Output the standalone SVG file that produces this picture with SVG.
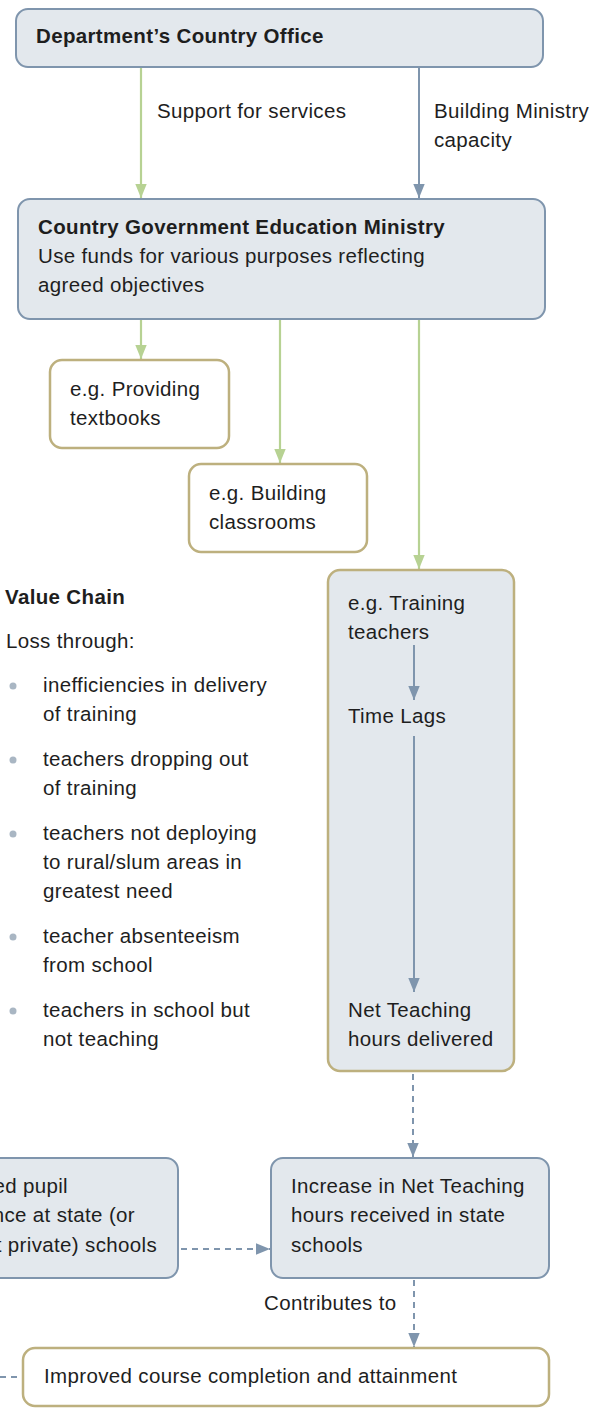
<svg xmlns="http://www.w3.org/2000/svg" width="606" height="1408" viewBox="0 0 606 1408">
  <defs>
    <style>
      text { font-family: "Liberation Sans", Arial, sans-serif; font-size: 20.5px; letter-spacing: 0.35px; fill: #1e1e1e; }
      .b { font-weight: bold; }
      .blue { fill: #e3e8ed; stroke: #7f95ad; stroke-width: 2; }
      .tan { fill: #ffffff; stroke: #bdb07e; stroke-width: 2.5; }
      .tanblue { fill: #e3e8ed; stroke: #bdb07e; stroke-width: 2.5; }
      .g { stroke: #b7d293; stroke-width: 2.2; fill: none; }
      .s { stroke: #7f95ad; stroke-width: 2; fill: none; }
      .d { stroke: #7f95ad; stroke-width: 2; fill: none; stroke-dasharray: 6 5; }
      .dot { fill: #a9b6c3; }
    </style>
    <marker id="ag" markerUnits="userSpaceOnUse" markerWidth="14" markerHeight="18" refX="16" refY="6.5" orient="auto" viewBox="0 0 16 13">
      <path d="M0,0 L16,6.5 L0,13 Z" fill="#b7d293"/>
    </marker>
    <marker id="as" markerUnits="userSpaceOnUse" markerWidth="14" markerHeight="18" refX="16" refY="6.5" orient="auto" viewBox="0 0 16 13">
      <path d="M0,0 L16,6.5 L0,13 Z" fill="#7f95ad"/>
    </marker>
  </defs>

  <!-- connectors -->
  <g id="connectors">
    <line class="g" x1="141" y1="67" x2="141" y2="198" marker-end="url(#ag)"/>
    <line class="s" x1="419" y1="67" x2="419" y2="198" marker-end="url(#as)"/>
    <line class="g" x1="141" y1="319" x2="141" y2="359" marker-end="url(#ag)"/>
    <line class="g" x1="280" y1="319" x2="280" y2="463" marker-end="url(#ag)"/>
    <line class="g" x1="419" y1="319" x2="419" y2="569" marker-end="url(#ag)"/>
    <line class="d" x1="413" y1="1074" x2="413" y2="1157" marker-end="url(#as)"/>
    <line class="d" x1="181" y1="1249" x2="270" y2="1249" marker-end="url(#as)"/>
    <line class="d" x1="414" y1="1280" x2="414" y2="1347" marker-end="url(#as)"/>
    <line class="d" x1="0" y1="1377" x2="23" y2="1377"/>
    <text x="157" y="118">Support for services</text>
    <text x="434" y="118">Building Ministry</text>
    <text x="434" y="147">capacity</text>
    <text x="264" y="1310">Contributes to</text>
  </g>

  <g id="country-office">
    <rect class="blue" x="16" y="9" width="527" height="58" rx="12"/>
    <text class="b" x="36" y="43">Department’s Country Office</text>
  </g>

  <g id="ministry">
    <rect class="blue" x="18" y="199" width="527" height="120" rx="12"/>
    <text class="b" x="38" y="234">Country Government Education Ministry</text>
    <text x="38" y="263">Use funds for various purposes reflecting</text>
    <text x="38" y="292">agreed objectives</text>
  </g>

  <g id="textbooks">
    <rect class="tan" x="50" y="360" width="179" height="88" rx="12"/>
    <text x="70" y="396">e.g. Providing</text>
    <text x="70" y="425">textbooks</text>
  </g>

  <g id="classrooms">
    <rect class="tan" x="189" y="464" width="178" height="88" rx="12"/>
    <text x="209" y="500">e.g. Building</text>
    <text x="209" y="529">classrooms</text>
  </g>

  <g id="training">
    <rect class="tanblue" x="328" y="570" width="186" height="501" rx="12"/>
    <text x="348" y="610">e.g. Training</text>
    <text x="348" y="639">teachers</text>
    <line class="s" x1="414" y1="645" x2="414" y2="700" marker-end="url(#as)"/>
    <text x="348" y="723">Time Lags</text>
    <line class="s" x1="414" y1="736" x2="414" y2="992" marker-end="url(#as)"/>
    <text x="348" y="1017">Net Teaching</text>
    <text x="348" y="1046">hours delivered</text>
  </g>

  <g id="value-chain">
    <text class="b" x="5" y="604">Value Chain</text>
    <text x="6" y="648">Loss through:</text>
    <circle class="dot" cx="13" cy="686" r="3.5"/>
    <text x="43" y="692">inefficiencies in delivery</text>
    <text x="43" y="721">of training</text>
    <circle class="dot" cx="13" cy="760" r="3.5"/>
    <text x="43" y="766">teachers dropping out</text>
    <text x="43" y="795">of training</text>
    <circle class="dot" cx="13" cy="834" r="3.5"/>
    <text x="43" y="840">teachers not deploying</text>
    <text x="43" y="869">to rural/slum areas in</text>
    <text x="43" y="898">greatest need</text>
    <circle class="dot" cx="13" cy="937" r="3.5"/>
    <text x="43" y="943">teacher absenteeism</text>
    <text x="43" y="972">from school</text>
    <circle class="dot" cx="13" cy="1011" r="3.5"/>
    <text x="43" y="1017">teachers in school but</text>
    <text x="43" y="1046">not teaching</text>
  </g>

  <g id="pupil-attendance">
    <rect class="blue" x="-20" y="1158" width="198" height="120" rx="12"/>
    <text x="68" y="1193" text-anchor="end">ed pupil</text>
    <text x="135" y="1222" text-anchor="end">nce at state (or</text>
    <text x="157" y="1252" text-anchor="end">t private) schools</text>
  </g>

  <g id="net-hours-received">
    <rect class="blue" x="271" y="1158" width="278" height="120" rx="12"/>
    <text x="291" y="1193">Increase in Net Teaching</text>
    <text x="291" y="1222">hours received in state</text>
    <text x="291" y="1252">schools</text>
  </g>

  <g id="attainment">
    <rect class="tan" x="23" y="1348" width="526" height="58" rx="12"/>
    <text x="44" y="1383">Improved course completion and attainment</text>
  </g>
</svg>
